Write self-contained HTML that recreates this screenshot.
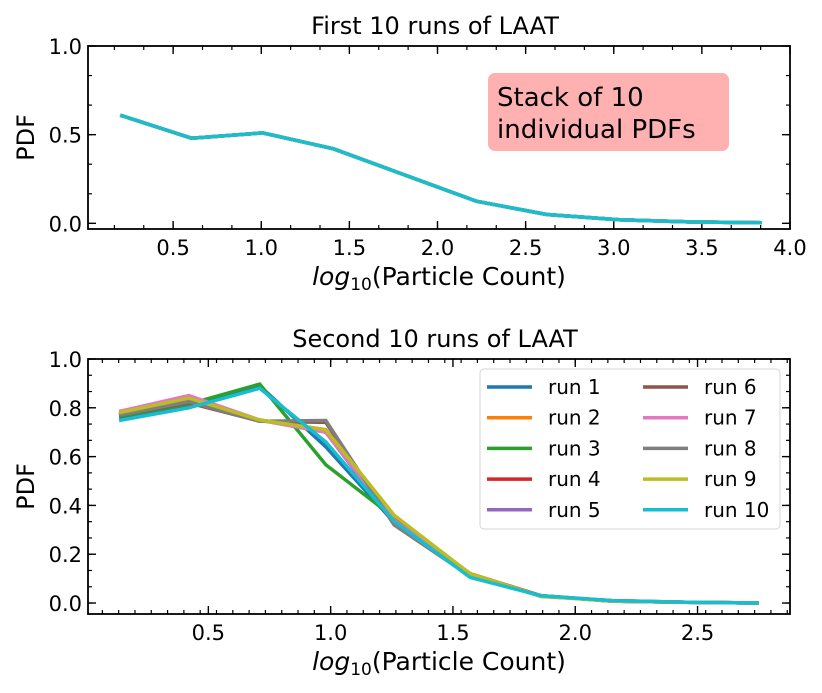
<!DOCTYPE html>
<html><head><meta charset="utf-8"><style>
body{margin:0;background:#fff;}
svg{display:block;font-family:"DejaVu Sans","Liberation Sans",sans-serif;}
</style></head><body>
<svg id="fig" width="822" height="693" viewBox="0 0 822 693" xmlns="http://www.w3.org/2000/svg"></svg>
<script>
const colors=['#1f77b4','#ff7f0e','#2ca02c','#d62728','#9467bd','#8c564b','#e377c2','#7f7f7f','#bcbd22','#17becf'];
const runNames=['run 1','run 2','run 3','run 4','run 5','run 6','run 7','run 8','run 9','run 10'];
// top panel data
const topX=[0.2,0.604,1.008,1.41,1.82,2.22,2.62,3.03,3.43,3.84];
const topY=[0.61,0.48,0.51,0.42,0.27,0.125,0.05,0.02,0.008,0.003];
const topXTicks=[0.5,1.0,1.5,2.0,2.5,3.0,3.5,4.0];
const topYTicks=[0.0,0.5,1.0];
// bottom panel data
const botX=[0.135,0.42,0.71,0.98,1.26,1.57,1.86,2.15,2.45,2.75];
const run1=[0.76,0.81,0.89,0.64,0.33,0.11,0.03,0.01,0.003,0.0];
const run2=[0.77,0.83,0.75,0.70,0.35,0.12,0.03,0.008,0.003,0.0];
const run3=[0.765,0.815,0.897,0.567,0.35,0.12,0.027,0.01,0.003,0.0];
const run4=[0.77,0.83,0.75,0.71,0.35,0.12,0.03,0.008,0.003,0.0];
const run5=[0.775,0.835,0.75,0.70,0.33,0.11,0.03,0.008,0.003,0.0];
const run6=[0.77,0.82,0.745,0.74,0.32,0.11,0.03,0.008,0.003,0.0];
const run7=[0.785,0.85,0.75,0.70,0.34,0.11,0.03,0.008,0.003,0.0];
const run8=[0.77,0.825,0.745,0.748,0.32,0.11,0.03,0.008,0.003,0.0];
const run9=[0.78,0.84,0.75,0.71,0.36,0.12,0.028,0.008,0.003,0.0];
const run10=[0.748,0.80,0.88,0.66,0.335,0.105,0.03,0.01,0.003,0.0];
const botXTicks=[0.5,1.0,1.5,2.0,2.5];
const botYTicks=[0.0,0.2,0.4,0.6,0.8,1.0];
const runs=[run1,run2,run3,run4,run5,run6,run7,run8,run9,run10];

const NS='http://www.w3.org/2000/svg';
const svg=document.getElementById('fig');
function mk(tag,attrs,parent){const e=document.createElementNS(NS,tag);for(const k in attrs)e.setAttribute(k,attrs[k]);(parent||svg).appendChild(e);return e;}

function panel(o){
  const g=mk('g',{});
  
  
  const sx=v=>o.L+(v-o.x0)/(o.x1-o.x0)*(o.R-o.L);
  const sy=v=>o.B-(v-o.y0)/(o.y1-o.y0)*(o.B-o.T);
  for(let v=Math.ceil(o.x0/o.xm)*o.xm; v<=o.x1+1e-9; v+=o.xm){
    const x=sx(v);
    mk('line',{x1:x,x2:x,y1:o.B,y2:o.B-4,stroke:'#000','stroke-width':1.2},g);
    mk('line',{x1:x,x2:x,y1:o.T,y2:o.T+4,stroke:'#000','stroke-width':1.2},g);
  }
  for(let v=Math.ceil(o.y0/o.ym)*o.ym; v<=o.y1+1e-9; v+=o.ym){
    const y=sy(v);
    mk('line',{x1:o.L,x2:o.L+4,y1:y,y2:y,stroke:'#000','stroke-width':1.2},g);
    mk('line',{x1:o.R,x2:o.R-4,y1:y,y2:y,stroke:'#000','stroke-width':1.2},g);
  }
  o.xt.forEach(v=>{
    const x=sx(v);
    mk('line',{x1:x,x2:x,y1:o.B,y2:o.B-8,stroke:'#000','stroke-width':1.4},g);
    mk('line',{x1:x,x2:x,y1:o.T,y2:o.T+8,stroke:'#000','stroke-width':1.4},g);
    const t=mk('text',{x:x,y:o.B+26,'font-size':21,'text-anchor':'middle'},g);
    t.textContent=v.toFixed(1);
    
    
  });
  o.yt.forEach(v=>{
    const y=sy(v);
    mk('line',{x1:o.L,x2:o.L+8,y1:y,y2:y,stroke:'#000','stroke-width':1.4},g);
    mk('line',{x1:o.R,x2:o.R-8,y1:y,y2:y,stroke:'#000','stroke-width':1.4},g);
    const t=mk('text',{x:o.L-6,y:y+8,'font-size':21,'text-anchor':'end'},g);
    t.textContent=v.toFixed(1);
    
    
  });
  o.series.forEach((s,i)=>{
    const pts=o.xs.map((x,j)=>sx(x).toFixed(1)+','+sy(s[j]).toFixed(1)).join(' ');
    const p=mk('polyline',{points:pts,fill:'none',stroke:colors[i],'stroke-width':o.lw,'stroke-linejoin':'miter'},g);
    
    
  });
  const box=mk('rect',{x:o.L,y:o.T,width:o.R-o.L,height:o.B-o.T,fill:'none',stroke:'#000','stroke-width':1.8},g);
  
  
  const ti=mk('text',{x:(o.L+o.R)/2-4,y:o.T-12,'font-size':24,'text-anchor':'middle'},g);
  ti.textContent=o.title;
  
  
  const xl=mk('text',{x:(o.L+o.R)/2,y:o.B+56,'font-size':25,'text-anchor':'middle'},g);
  xl.innerHTML='<tspan font-style="italic">log</tspan><tspan font-size="17" dy="5">10</tspan><tspan dy="-5">(Particle Count)</tspan>';
  
  
  const yl=mk('text',{x:0,y:0,'font-size':24,'text-anchor':'middle',transform:`translate(34,${(o.T+o.B)/2}) rotate(-90)`},g);
  yl.textContent='PDF';
  
  
  return {sx,sy};
}

const topSeries=runNames.map(()=>topY);
panel({name:'top-panel',L:88,R:790,T:46,B:229,x0:0.017,x1:4.0,y0:-0.032,y1:1.0,xm:1/6,ym:1/6,
  xt:topXTicks,yt:topYTicks,xs:topX,series:topSeries,lw:3.5,title:'First 10 runs of LAAT'});
panel({name:'bottom-panel',L:88,R:790,T:359,B:614,x0:0.008,x1:2.878,y0:-0.045,y1:1.0,xm:1/15,ym:0.2/3,
  xt:botXTicks,yt:botYTicks,xs:botX,series:runs,lw:3.5,title:'Second 10 runs of LAAT'});

const tb=mk('g',{});


mk('rect',{x:488,y:73,width:241,height:78,rx:7,fill:'#ffb1b1'},tb);
const t1=mk('text',{x:497,y:106,'font-size':26},tb);t1.textContent='Stack of 10';
const t2=mk('text',{x:497,y:138,'font-size':26},tb);t2.textContent='individual PDFs';

const lg=mk('g',{});


mk('rect',{x:480,y:369,width:300,height:160,rx:4,fill:'#fff','fill-opacity':0.85,stroke:'#d6d6d6','stroke-width':1},lg);
runNames.forEach((n,i)=>{
  const col=Math.floor(i/5),row=i%5;
  const x=col?643:487, y=387+row*30.7;
  const e=mk('g',{},lg);
  
  
  mk('line',{x1:x,x2:x+45,y1:y,y2:y,stroke:colors[i],'stroke-width':3.5},e);
  const t=mk('text',{x:x+61,y:y+7,'font-size':20},e);t.textContent=n;
});
</script>
</body></html>
